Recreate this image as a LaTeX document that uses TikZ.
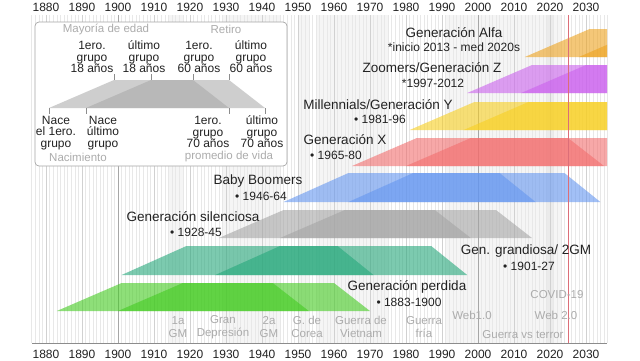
\documentclass[tikz,border=0pt]{standalone}
\usepackage{fontspec}
\setmainfont{Liberation Sans}
\definecolor{cLost}{RGB}{67,203,33}
\definecolor{cGreat}{RGB}{38,168,123}
\definecolor{cSilent}{RGB}{165,165,165}
\definecolor{cBoom}{RGB}{100,150,240}
\definecolor{cGenX}{RGB}{243,110,110}
\definecolor{cMill}{RGB}{248,207,33}
\definecolor{cZoom}{RGB}{203,97,238}
\definecolor{cAlfa}{RGB}{238,163,30}
\definecolor{txt}{RGB}{34,34,34}
\definecolor{evgray}{RGB}{172,172,172}
\definecolor{redline}{RGB}{220,110,120}
\newcommand{\genband}[5]{%
  \fill[#1,fill opacity=0.6] ({46+(#2-1880)*3.6},#5) -- ({46+(#2-1862)*3.6},#4) -- ({46+(#2-1820)*3.6},#4) -- ({46+(#2-1810)*3.6},#5) -- cycle;
  \fill[#1,fill opacity=0.6] ({46+(#3-1880)*3.6},#5) -- ({46+(#3-1862)*3.6},#4) -- ({46+(#3-1820)*3.6},#4) -- ({46+(#3-1810)*3.6},#5) -- cycle;}
\tikzset{
  axislbl/.style={font=\fontsize{12bp}{14bp}\selectfont, text=txt, inner sep=0pt},
  gtitle/.style={font=\fontsize{13.5bp}{15bp}\selectfont, text=txt, inner sep=0pt},
  gsub/.style={font=\fontsize{12bp}{14bp}\selectfont, text=txt, inner sep=0pt},
  evlbl/.style={font=\fontsize{11.5bp}{12.5bp}\selectfont, text=evgray, align=center, inner sep=0pt},
  lgtxt/.style={font=\fontsize{12bp}{11.5bp}\selectfont, text=txt, align=center, inner sep=0pt},
  lggray/.style={font=\fontsize{11.5bp}{13bp}\selectfont, text=evgray, inner sep=0pt},
  gridline/.style={draw=black!9, line width=0.5bp},
  decline/.style={draw=black!18, line width=0.5bp},
  evcol/.style={fill=black, fill opacity=0.04},
  tick/.style={draw=black!45, line width=0.6bp}
}
\begin{document}
\begin{tikzpicture}[x=1bp,y=-1bp]
\useasboundingbox (0,0) rectangle (640,360);
\fill[white] (0,0) rectangle (640,360);
% event columns
\foreach \a/\b in {1914/1918,1929/1945,1950/1953,1955/1975,1991/2001,2001/2021,2019/2023}
  \fill[evcol] ({46+(\a-1880)*3.6},15) rectangle ({46+(\b-1880)*3.6},343);
% grid
\foreach \y in {1876,...,2036}
  \draw[gridline] ({46+(\y-1880)*3.6},15) -- ({46+(\y-1880)*3.6},343);
\foreach \y in {1880,1890,...,2030}
  \draw[decline] ({46+(\y-1880)*3.6},15) -- ({46+(\y-1880)*3.6},343);
\draw[draw=black!35, line width=0.6bp] (118,15) -- (118,343);
\draw[draw=black!35, line width=0.6bp] (478,15) -- (478,343);
% axis
\draw[draw=black!45, line width=0.7bp] (32,343) -- (607,343);
\foreach \y in {1880,1890,...,2030} {
  \node[axislbl] (top\y) at ({46+(\y-1880)*3.6},7) {\y};
  \node[axislbl] (bot\y) at ({46+(\y-1880)*3.6},354) {\y};
}
% bands
\begin{scope}
\clip (0,0) rectangle (607,360);
\genband{cAlfa}{2013}{2028}{29}{57}
\genband{cZoom}{1997}{2012}{65}{93}
\genband{cMill}{1981}{1996}{102}{130}
\genband{cGenX}{1965}{1980}{138}{166}
\genband{cBoom}{1946}{1964}{173}{202}
\genband{cSilent}{1928}{1945}{210}{238}
\genband{cGreat}{1901}{1927}{246}{275}
\genband{cLost}{1883}{1900}{283}{311}
\end{scope}
% red line (now)
\draw[draw=redline, line width=0.7bp] (568,15) -- (568,343);
% generation labels
\node[gtitle] (alfaT) at (454,33) {Generación Alfa};
\node[gsub] (alfaS) at (454,47) {*inicio 2013 - med 2020s};
\node[gtitle] (zoomT) at (432,68) {Zoomers/Generación Z};
\node[gsub] (zoomS) at (433,83) {*1997-2012};
\node[gtitle] (millT) at (378,105) {Millennials/Generación Y};
\node[gsub] (millS) at (380,119) {• 1981-96};
\node[gtitle] (genxT) at (345,140) {Generación X};
\node[gsub] (genxS) at (336,155) {• 1965-80};
\node[gtitle] (boomT) at (258,181) {Baby Boomers};
\node[gsub] (boomS) at (261,196) {• 1946-64};
\node[gtitle] (silT) at (193,217) {Generación silenciosa};
\node[gsub] (silS) at (196,232) {• 1928-45};
\node[gtitle] (greT) at (526,251) {Gen. grandiosa/ 2GM};
\node[gsub] (greS) at (529,266) {• 1901-27};
\node[gtitle] (lostT) at (407,287) {Generación perdida};
\node[gsub] (lostS) at (409,302) {• 1883-1900};
% event labels
\node[evlbl] (ev1) at (178,327) {1a\\GM};
\node[evlbl] (ev2) at (223,327) {Gran\\Depresión};
\node[evlbl] (ev3) at (269,327) {2a\\GM};
\node[evlbl] (ev4) at (307,327) {G. de\\Corea};
\node[evlbl] (ev5) at (361,327) {Guerra de\\Vietnam};
\node[evlbl] (ev6) at (424,327) {Guerra\\fría};
\node[evlbl] (ev7) at (472,315) {Web1.0};
\node[evlbl] (ev8) at (557,295) {COVID-19};
\node[evlbl] (ev9) at (556,315) {Web 2.0};
\node[evlbl] (ev10) at (523,335) {Guerra vs terror};
% legend
\draw[draw=black!35, line width=0.7bp, fill=white, rounded corners=4bp] (35,22) rectangle (287,166);
\fill[black!35, fill opacity=0.55] (49,108) -- (114,80) -- (193,80) -- (229,108) -- cycle;
\fill[black!35, fill opacity=0.55] (86,108) -- (151,80) -- (229,80) -- (265,108) -- cycle;
\foreach \x in {114,151,193,229} \draw[tick] (\x,74) -- (\x,80);
\foreach \x in {49,86,229,265} \draw[tick] (\x,108) -- (\x,114);
\node[lggray] (lgMay) at (106,29) {Mayoría de edad};
\node[lggray] (lgRet) at (226,29) {Retiro};
\node[lgtxt] (lg1) at (92,57) {1ero.\\grupo\\18 años};
\node[lgtxt] (lg2) at (144,57) {último\\grupo\\18 años};
\node[lgtxt] (lg3) at (199,57) {1ero.\\grupo\\60 años};
\node[lgtxt] (lg4) at (251,57) {último\\grupo\\60 años};
\node[lgtxt] (lg5) at (56,133) {Nace\\el 1ero.\\grupo};
\node[lgtxt] (lg6) at (103,133) {Nace\\último\\grupo};
\node[lgtxt] (lg7) at (208,132) {1ero.\\grupo\\70 años};
\node[lgtxt] (lg8) at (262,132) {último\\grupo\\70 años};
\node[lggray] (lgNac) at (78,157) {Nacimiento};
\node[lggray] (lgProm) at (229,157) {promedio de vida};
\end{tikzpicture}
\end{document}
